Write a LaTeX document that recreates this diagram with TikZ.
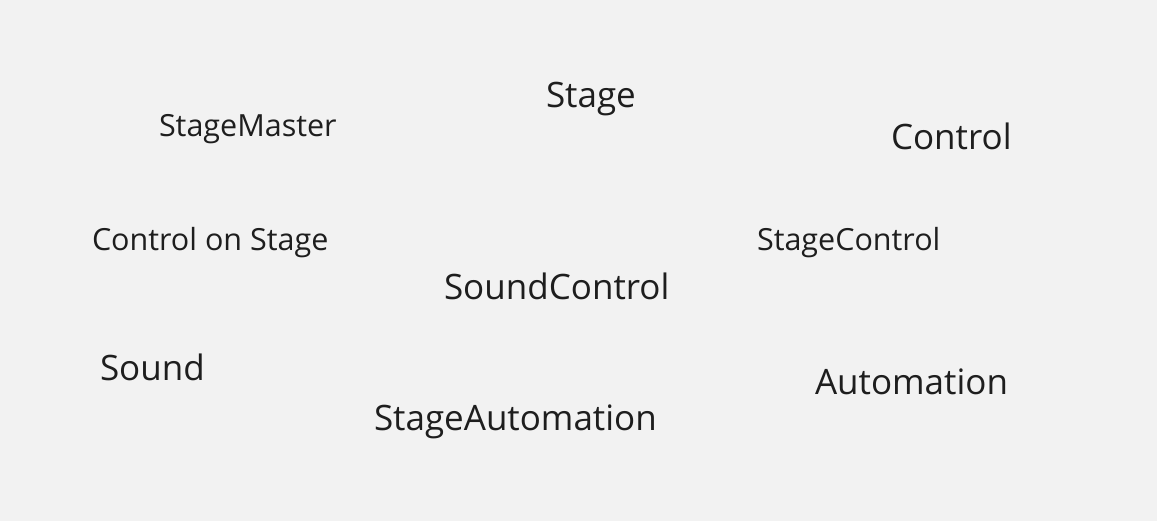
\documentclass[tikz,border=0pt]{standalone}
\usepackage{fontspec}
\setmainfont{Open Sans}
\definecolor{cloudbg}{HTML}{F2F2F2}
\definecolor{cloudink}{HTML}{1E1E1E}
\begin{document}
\begin{tikzpicture}[x=1pt,y=-1pt]

\tikzset{word/.style={text=cloudink, inner sep=0pt, outer sep=0pt, anchor=base west},
%two sizes of words only
bigword/.style={word, font=\fontsize{35}{35}\selectfont},
smallword/.style={word, font=\fontsize{30.5}{30.5}\selectfont}}

\fill [cloudbg] (0,0) rectangle (1157,521);

\node [bigword] (stage) at (546,108) {Stage};
\node [smallword] (stagemaster) at (159,137) {StageMaster};
\node [bigword] (control) at (891,150) {Control};
\node [smallword] (controlonstage) at (92,251) {Control on Stage};
\node [smallword] (stagecontrol) at (757,251) {StageControl};
\node [bigword] (soundcontrol) at (444,300) {SoundControl};
\node [bigword] (sound) at (100,381) {Sound};
\node [bigword] (automation) at (815,394) {Automation};
\node [bigword] (stageautomation) at (374,430) {StageAutomation};

\end{tikzpicture}
\end{document}
